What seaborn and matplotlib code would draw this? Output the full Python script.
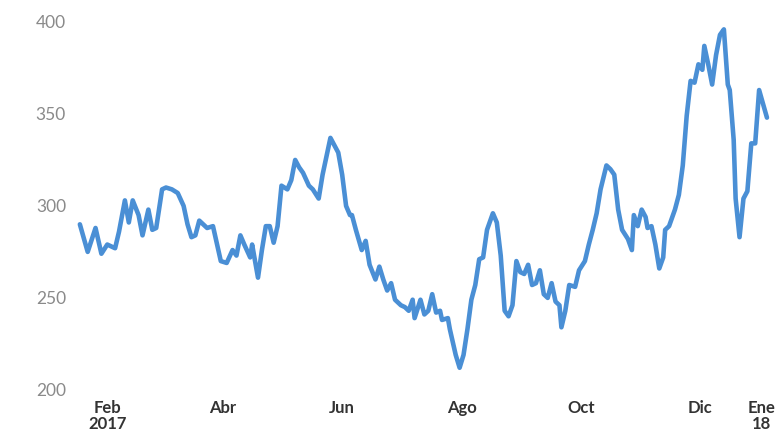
import pandas as pd
import matplotlib
matplotlib.use("Agg")
import matplotlib.pyplot as plt
import seaborn as sns

# días desde el 1 de febrero de 2017 y valor
inicio = "2017-02-01"
dias = [0, 4, 8, 11, 14, 18, 20, 23, 25, 27, 30, 32, 35, 37, 39, 42, 44, 47, 50, 53,
        55, 57, 59, 61, 65, 68, 72, 75, 78, 80, 82, 84, 87, 88, 91, 93, 95, 97, 99, 101,
        103, 106, 108, 110, 112, 114, 117, 119, 122, 124, 128, 130, 132, 134, 136, 138, 139, 141, 144, 146,
        148, 151, 153, 155, 157, 159, 161, 164, 166, 168, 170, 171, 174, 176, 178, 180, 182, 184, 185, 188,
        189, 192, 194, 196, 198, 200, 202, 204, 206, 208, 211, 213, 215, 217, 219, 221, 223, 225, 227, 229,
        231, 233, 235, 237, 239, 241, 243, 245, 246, 248, 250, 253, 255, 258, 260, 262, 264, 266, 269, 271,
        273, 275, 277, 280, 282, 283, 285, 287, 289, 290, 292, 294, 296, 298, 299, 301, 304, 306, 308, 310,
        312, 314, 316, 318, 319, 321, 323, 325, 327, 329, 331, 332, 334, 335, 337, 339, 341, 343, 345, 347,
        351]
valores = [290, 275, 288, 274, 279, 277, 286, 303, 291, 303, 295, 284, 298, 287, 288, 309, 310, 309, 307, 300,
           290, 283, 284, 292, 288, 289, 270, 269, 276, 273, 284, 279, 272, 279, 261, 276, 289, 289, 280, 289,
           311, 309, 314, 325, 321, 318, 311, 309, 304, 317, 337, 333, 329, 317, 300, 295, 295, 287, 276, 281,
           268, 260, 267, 260, 254, 258, 249, 246, 245, 243, 249, 239, 249, 241, 243, 252, 242, 243, 238, 239,
           233, 219, 212, 219, 233, 249, 257, 271, 272, 287, 296, 291, 273, 243, 240, 246, 270, 264, 263, 268,
           257, 258, 265, 252, 250, 258, 248, 246, 234, 243, 257, 256, 265, 270, 279, 287, 296, 309, 322, 320,
           317, 298, 287, 282, 276, 295, 289, 298, 294, 288, 289, 279, 266, 272, 287, 289, 298, 306, 322, 349,
           368, 367, 377, 374, 387, 377, 366, 382, 393, 396, 366, 363, 336, 304, 283, 304, 308, 334, 334, 363,
           348]

etiquetas_fechas = ["2017-02-15", "2017-04-15", "2017-06-15", "2017-08-15",
                    "2017-10-15", "2017-12-15", "2018-01-15"]
etiquetas = ["Feb\n2017", "Abr", "Jun", "Ago", "Oct", "Dic", "Ene\n18"]
y_ticks = [200, 250, 300, 350, 400]

df = pd.DataFrame({
    "fecha": pd.Timestamp(inicio) + pd.to_timedelta(dias, unit="D"),
    "valor": valores,
})

sns.set_style("white")
plt.rcParams["font.family"] = ["Lato", "DejaVu Sans"]

fig = plt.figure(figsize=(7.83, 4.40), dpi=100)
ax = fig.add_axes([0.102, 0.114, 0.885, 0.836])

sns.lineplot(data=df, x="fecha", y="valor", ax=ax, color="#4a8fd5", linewidth=3.3)
for ln in ax.lines:
    ln.set_clip_on(False)
    ln.set_solid_joinstyle("round")

ax.set_xlim(pd.Timestamp(inicio), df["fecha"].max() + pd.Timedelta(days=3))
ax.set_ylim(200, 400)
ax.set_yticks(y_ticks)
ax.set_yticklabels([str(v) for v in y_ticks], fontsize=12.5, color="#8a8a8a")
ax.set_xticks(pd.to_datetime(etiquetas_fechas))
ax.set_xticklabels(etiquetas, fontsize=12, fontweight="bold", color="#333333", linespacing=1.0)
ax.tick_params(axis="both", length=0)
ax.tick_params(axis="y", pad=10)
ax.tick_params(axis="x", pad=7)
ax.set_xlabel("")
ax.set_ylabel("")
for s in ax.spines.values():
    s.set_visible(False)
ax.grid(False)

fig.savefig("out.png", dpi=100)
